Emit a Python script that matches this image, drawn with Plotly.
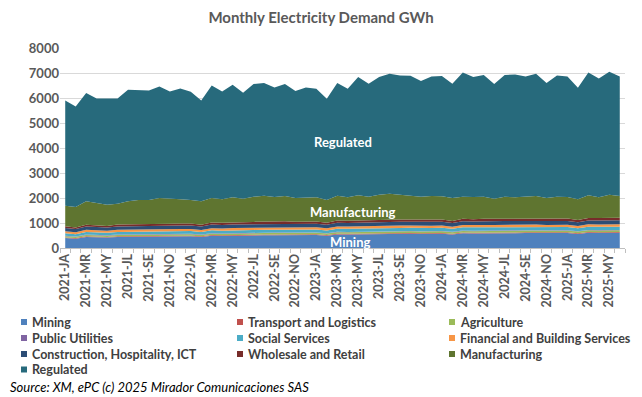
import plotly.graph_objects as go

months = ["JA", "FE", "MR", "AP", "MY", "JN", "JL", "AU", "SE", "OC", "NO", "DE"]
categories = [f"{y}-{m}" for y in range(2021, 2026) for m in months][:54]

mining = [400, 375, 445, 435, 420, 445, 450, 455, 455, 470, 460, 465,
          470, 445, 490, 480, 495, 500, 505, 510, 515, 520, 510, 520,
          520, 495, 545, 540, 550, 555, 560, 565, 570, 575, 565, 570,
          575, 545, 590, 580, 590, 590, 595, 595, 600, 600, 590, 595,
          600, 565, 610, 605, 615, 610]
transport = [24, 23, 25, 25, 24, 25, 25, 26, 26, 26, 25, 25,
             25, 24, 26, 26, 26, 26, 26, 27, 27, 27, 26, 26,
             26, 25, 27, 27, 27, 27, 27, 28, 28, 28, 27, 27,
             27, 26, 28, 28, 28, 28, 28, 28, 28, 28, 27, 27,
             27, 26, 28, 28, 28, 28]
agriculture = [50, 48, 52, 52, 50, 53, 54, 55, 55, 56, 55, 55,
               56, 53, 58, 57, 58, 58, 59, 60, 60, 60, 59, 60,
               60, 57, 62, 62, 63, 63, 64, 65, 65, 65, 64, 64,
               65, 62, 67, 67, 68, 68, 68, 69, 69, 69, 68, 68,
               68, 65, 70, 70, 71, 71]
public_utilities = [15, 14, 15, 15, 15, 15, 15, 15, 15, 16, 15, 15,
                    15, 14, 16, 16, 16, 16, 16, 16, 16, 16, 16, 16,
                    16, 15, 16, 16, 16, 16, 16, 16, 16, 16, 16, 16,
                    16, 15, 16, 16, 16, 16, 16, 16, 16, 16, 16, 16,
                    16, 15, 16, 16, 16, 16]
social = [100, 95, 105, 104, 100, 106, 108, 110, 110, 112, 111, 112,
          112, 106, 116, 115, 117, 117, 118, 119, 120, 120, 118, 119,
          118, 112, 122, 121, 123, 123, 124, 125, 125, 126, 124, 124,
          124, 118, 127, 126, 128, 128, 128, 129, 129, 129, 127, 127,
          127, 121, 130, 130, 131, 130]
financial = [80, 76, 84, 83, 80, 84, 85, 86, 86, 88, 87, 88,
             86, 82, 89, 88, 89, 89, 90, 90, 91, 91, 90, 92,
             88, 84, 91, 90, 91, 91, 92, 92, 93, 93, 92, 93,
             90, 86, 93, 92, 93, 93, 94, 94, 94, 94, 93, 94,
             92, 88, 95, 94, 95, 95]
construction = [130, 125, 135, 133, 128, 134, 136, 138, 138, 140, 139, 141,
                140, 134, 143, 142, 144, 144, 145, 146, 146, 147, 145, 147,
                145, 139, 148, 147, 149, 149, 150, 151, 151, 152, 150, 151,
                150, 144, 152, 151, 153, 153, 154, 154, 154, 155, 153, 154,
                153, 147, 156, 155, 156, 156]
wholesale = [70, 66, 74, 73, 68, 74, 76, 78, 78, 80, 80, 82,
             80, 76, 84, 83, 85, 85, 86, 87, 87, 88, 87, 90,
             88, 84, 91, 90, 91, 91, 92, 93, 93, 94, 93, 95,
             93, 89, 96, 95, 96, 96, 97, 97, 98, 98, 97, 99,
             97, 93, 100, 99, 100, 100]
manufacturing = [824, 818, 932, 880, 848, 837, 918, 957, 957, 1012, 988, 964,
                 936, 933, 978, 940, 997, 938, 1008, 1038, 978, 1011, 949, 957,
                 966, 909, 991, 934, 997, 938, 1008, 1038, 992, 944, 922, 940,
                 927, 915, 884, 885, 881, 801, 873, 845, 865, 891, 829, 873,
                 860, 827, 902, 830, 921, 874]
regulated = [4212, 4025, 4332, 4185, 4252, 4212, 4465, 4400, 4385, 4465, 4305, 4438,
             4330, 4038, 4505, 4318, 4505, 4239, 4506, 4507, 4385, 4479, 4279, 4398,
             4345, 4052, 4507, 4345, 4732, 4519, 4706, 4799, 4772, 4799, 4626, 4785,
             4812, 4572, 4972, 4799, 4866, 4586, 4866, 4918, 4812, 4892, 4600, 4852,
             4825, 4465, 4918, 4758, 4919, 4785]

series_names = ["Mining", "Transport and Logistics", "Agriculture", "Public Utilities",
                "Social Services", "Financial and Building Services",
                "Construction, Hospitality, ICT", "Wholesale and Retail",
                "Manufacturing", "Regulated"]
series_values = [mining, transport, agriculture, public_utilities, social, financial,
                 construction, wholesale, manufacturing, regulated]
colors = ["#4F81BD", "#C0504D", "#9BBB59", "#8064A2", "#4BACC6", "#F79646",
          "#2C4D75", "#772C2A", "#5F7530", "#276A7C"]

y_ticks = [0, 1000, 2000, 3000, 4000, 5000, 6000, 7000, 8000]

FONT = "Lato"
W, H = 642, 397
ML, MR, MT, MB = 60, 17, 48, 149
PW, PH = W - ML - MR, H - MT - MB


def px_x(px):
    return (px - ML) / PW


def px_y(py):
    return (H - MB - py) / PH


xs = list(range(len(categories)))

fig = go.Figure()
for name, vals, col in zip(series_names, series_values, colors):
    fig.add_trace(go.Scatter(
        x=xs, y=vals, name=name, stackgroup="one", mode="lines",
        line=dict(width=0, color=col), fillcolor=col, showlegend=False,
    ))

label_idx = list(range(0, len(categories), 2))
fig.update_xaxes(
    range=[-0.5, len(categories) - 0.5],
    tickmode="array", tickvals=label_idx, ticktext=[categories[i] for i in label_idx],
    tickangle=-90, ticks="", showgrid=False, zeroline=False,
    showline=True, linecolor="#bfbfbf", linewidth=1,
    tickfont=dict(family=FONT, size=12.5, color="#595959", weight="bold"),
    minor=dict(ticks="outside", tick0=-0.5, dtick=1, ticklen=4, tickcolor="#bfbfbf", showgrid=False),
)
fig.update_yaxes(
    range=[0, 8000], tickvals=y_ticks, showgrid=True, gridcolor="#d9d9d9",
    zeroline=False, showline=False, ticks="",
    tickfont=dict(family=FONT, size=13, color="#595959", weight="bold"),
)

annotations = []
ann_font = dict(family=FONT, size=13, color="white", weight="bold")
annotations.append(dict(x=26.5, y=4250, text="Regulated", showarrow=False, font=ann_font))
annotations.append(dict(x=27.5, y=1450, text="Manufacturing", showarrow=False, font=ann_font))
annotations.append(dict(x=27.2, y=250, text="Mining", showarrow=False, font=ann_font))

# legend (3 columns, Excel-like)
col_x = [21, 237, 449]
row_y = [322, 338, 354, 369.5]
shapes = []
for i, (name, col) in enumerate(zip(series_names, colors)):
    r, c = divmod(i, 3)
    mx, my = col_x[c], row_y[r]
    shapes.append(dict(type="rect", xref="paper", yref="paper",
                       x0=px_x(mx), x1=px_x(mx + 6), y0=px_y(my + 3), y1=px_y(my - 3),
                       fillcolor=col, line=dict(width=0)))
    annotations.append(dict(xref="paper", yref="paper", x=px_x(mx + 9), y=px_y(my),
                            text=name, showarrow=False, xanchor="left", yanchor="middle",
                            font=dict(family=FONT, size=12.5, color="#404040", weight="bold")))

annotations.append(dict(xref="paper", yref="paper", x=px_x(8), y=px_y(386.5),
                        text="<i>Source: XM, ePC (c) 2025 Mirador Comunicaciones SAS</i>",
                        showarrow=False, xanchor="left", yanchor="middle",
                        font=dict(family=FONT, size=13, color="black")))

fig.update_layout(
    width=W, height=H,
    margin=dict(l=ML, r=MR, t=MT, b=MB),
    paper_bgcolor="white", plot_bgcolor="white",
    title=dict(text="<b>Monthly Electricity Demand GWh</b>", x=0.5, xanchor="center",
               y=1 - 18 / H, yanchor="middle",
               font=dict(family=FONT, size=15, color="#595959")),
    showlegend=False,
    annotations=annotations,
    shapes=shapes,
)

fig.write_html("out.html", config={"displayModeBar": False},
               post_script="document.body.style.margin='0';document.body.style.padding='0';")
